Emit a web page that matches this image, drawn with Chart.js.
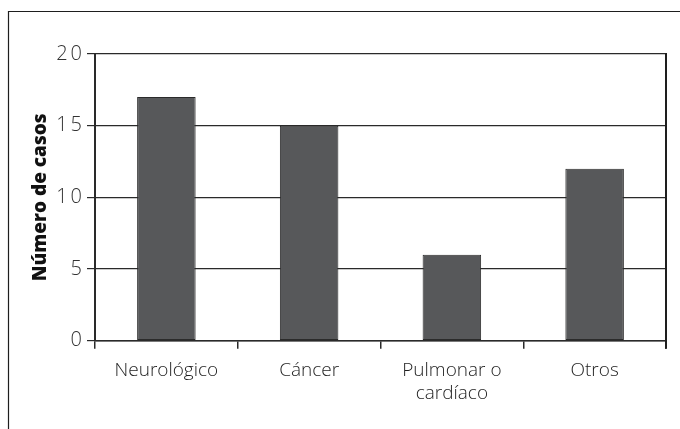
<!DOCTYPE html>
<html>
<head>
<meta charset="utf-8">
<script src="https://cdn.jsdelivr.net/npm/chart.js@4"></script>
<style>
html,body{margin:0;padding:0;background:#fff;}
#wrap{position:relative;width:680px;height:429px;}
canvas{display:block;}
</style>
</head>
<body>
<div id="wrap"><canvas id="c" width="680" height="429"></canvas></div>
<script>
const categories = [["Neurológico"], ["Cáncer"], ["Pulmonar o", "cardíaco"], ["Otros"]];
const casos = [17, 15, 6, 12];
const yTicks = [0, 5, 10, 15, 20];
const yTitle = "Número de casos";

const frame = {
  id: 'frame',
  afterLayout(chart) {
    const y = chart.scales.y;
    if (y && !y._spaced) {
      const orig = y.drawLabels.bind(y);
      y.drawLabels = function (area) {
        const ctx = chart.ctx;
        ctx.save();
        ctx.letterSpacing = '3px';
        ctx.translate(3, 0);
        orig(area);
        ctx.restore();
      };
      y._spaced = true;
    }
  },
  afterDraw(chart) {
    const ctx = chart.ctx, a = chart.chartArea;
    ctx.save();
    ctx.strokeStyle = '#1e1e1e';
    ctx.lineWidth = 1.2;
    ctx.beginPath();
    ctx.moveTo(8.5, 429); ctx.lineTo(8.5, 11.5); ctx.lineTo(680, 11.5);
    ctx.stroke();
    ctx.lineWidth = 2;
    ctx.beginPath();
    ctx.moveTo(a.right, a.top - 1); ctx.lineTo(a.right, a.bottom + 8);
    ctx.stroke();
    ctx.restore();
  }
};

new Chart(document.getElementById('c'), {
  type: 'bar',
  data: {
    labels: categories,
    datasets: [{
      data: casos,
      backgroundColor: '#57585a',
      borderColor: '#2b2b2b',
      borderWidth: 1,
      borderSkipped: false,
      barPercentage: 0.41,
      categoryPercentage: 1
    }]
  },
  options: {
    responsive: false,
    animation: false,
    devicePixelRatio: 1,
    layout: { padding: { left: 0, right: 14, top: 54, bottom: 14 } },
    plugins: { legend: { display: false }, tooltip: { enabled: false } },
    scales: {
      x: {
        grid: { display: true, drawOnChartArea: false, drawTicks: true, tickLength: 8, color: '#2a2a2a', lineWidth: 1.5 },
        border: { display: true, color: '#2a2a2a', width: 1.5 },
        ticks: { color: '#1e1e1e', padding: 10, font: { family: 'Open Sans', size: 19, weight: 300, lineHeight: 1.22 } }
      },
      y: {
        min: 0, max: 20,
        afterFit(scale) { scale.width = 95; },
        afterBuildTicks(scale) { scale.ticks = yTicks.map(v => ({ value: v })); },
        grid: { color: '#2a2a2a', lineWidth: 1.2, tickLength: 8, drawTicks: true },
        border: { display: true, color: '#2a2a2a', width: 2 },
        ticks: { color: '#333', padding: 5, font: { family: 'Open Sans', size: 20, weight: 300 } },
        title: { display: true, text: yTitle, color: '#111', padding: { top: 29, bottom: 0 }, font: { family: 'Open Sans', size: 19, weight: 800 } }
      }
    }
  },
  plugins: [frame]
});
</script>
</body>
</html>
